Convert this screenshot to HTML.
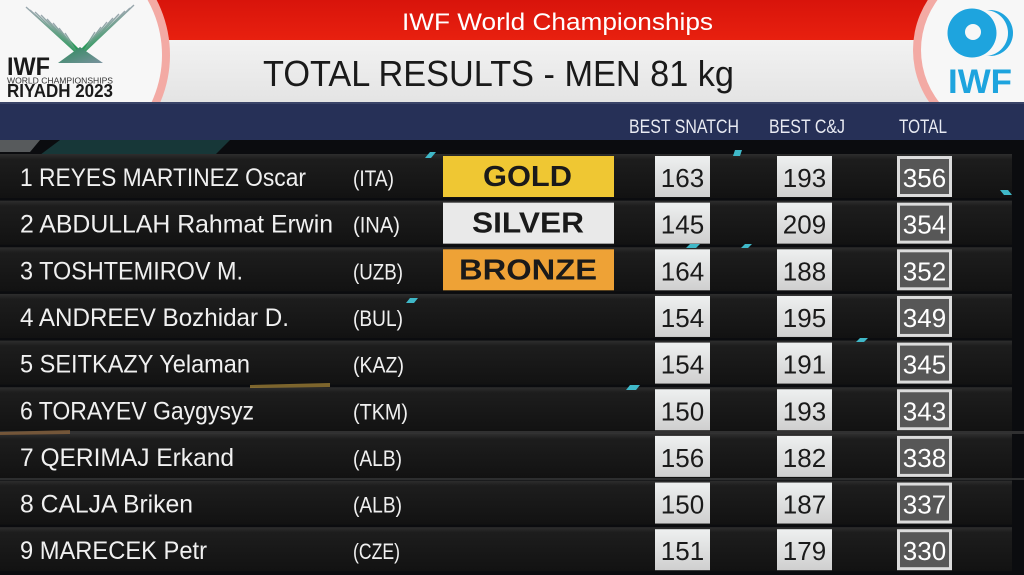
<!DOCTYPE html>
<html><head><meta charset="utf-8">
<style>
html,body{margin:0;padding:0;background:#0a0b0d;}
svg{display:block;}
text{font-family:"Liberation Sans",sans-serif;}
</style></head>
<body>
<svg width="1024" height="575" viewBox="0 0 1024 575" xmlns="http://www.w3.org/2000/svg">
<defs>
<linearGradient id="wb" x1="0" y1="0" x2="0" y2="1"><stop offset="0" stop-color="#fbfbfb"/><stop offset="1" stop-color="#e4e4e4"/></linearGradient>
<linearGradient id="rb" x1="0" y1="0" x2="0" y2="1"><stop offset="0" stop-color="#d8140b"/><stop offset="1" stop-color="#e8200f"/></linearGradient>
<linearGradient id="row" x1="0" y1="0" x2="0" y2="1"><stop offset="0" stop-color="#2e2e2e"/><stop offset="0.12" stop-color="#1d1d1d"/><stop offset="1" stop-color="#121212"/></linearGradient>
<linearGradient id="nb" x1="0" y1="0" x2="0" y2="1"><stop offset="0" stop-color="#eef0f0"/><stop offset="1" stop-color="#cfcfcf"/></linearGradient>
<linearGradient id="wing" x1="0" y1="0" x2="0" y2="1"><stop offset="0" stop-color="#9aa6ae"/><stop offset="1" stop-color="#2a9a5a"/></linearGradient>
<linearGradient id="pyr" x1="0" y1="0" x2="1" y2="1"><stop offset="0" stop-color="#2a8a5a"/><stop offset="1" stop-color="#7a929e"/></linearGradient>
<clipPath id="hdr"><rect x="0" y="0" width="1024" height="102"/></clipPath>
</defs>

<!-- dark background -->
<rect x="0" y="0" width="1024" height="575" fill="#0b0c0f"/>
<polygon points="60,140 230,140 215,155 40,155" fill="#1d4a4a" opacity="0.7"/>
<polygon points="0,140 40,140 30,152 0,152" fill="#8a9090" opacity="0.6"/>

<g clip-path="url(#hdr)">
  <!-- header white band -->
  <rect x="0" y="0" width="1024" height="102" fill="url(#wb)"/>
  <!-- red band -->
  <rect x="140" y="0" width="800" height="40" fill="url(#rb)"/>
  <!-- left logo circle -->
  <circle cx="50" cy="55" r="120" fill="#f3aaa4"/>
  <circle cx="50" cy="55" r="112" fill="#f7f7f7"/>
  <!-- right logo circle -->
  <circle cx="1005" cy="50" r="92" fill="#f3aaa4"/>
  <circle cx="1005" cy="50" r="84" fill="#f7f7f7"/>
</g>
<!-- navy band -->
<rect x="0" y="102" width="1024" height="38" fill="#263057"/>
<rect x="0" y="102" width="1024" height="2" fill="#3a4468"/>

<!-- left logo -->
<g>
  <g stroke="url(#wing)" stroke-width="1.4">
    <line x1="26" y1="7" x2="80" y2="56"/><line x1="30" y1="10" x2="80" y2="56"/>
    <line x1="35" y1="12" x2="80" y2="56"/><line x1="41" y1="15" x2="80" y2="56"/>
    <line x1="47" y1="19" x2="80" y2="56"/><line x1="53" y1="23" x2="80" y2="56"/>
    <line x1="59" y1="28" x2="80" y2="56"/><line x1="65" y1="33" x2="80" y2="56"/>
    <line x1="134" y1="5" x2="80" y2="56"/><line x1="130" y1="8" x2="80" y2="56"/>
    <line x1="125" y1="11" x2="80" y2="56"/><line x1="119" y1="14" x2="80" y2="56"/>
    <line x1="113" y1="18" x2="80" y2="56"/><line x1="107" y1="22" x2="80" y2="56"/>
    <line x1="101" y1="27" x2="80" y2="56"/><line x1="95" y1="32" x2="80" y2="56"/>
  </g>
  <polygon points="70,40 80,56 90,40 80,50" fill="#2a9a5a"/>
  <polygon points="58,63 80,47 103,63" fill="url(#pyr)"/>
  <text x="7" y="75" font-size="25" font-weight="bold" fill="#1a1a1a" textLength="43" lengthAdjust="spacingAndGlyphs">IWF</text>
  <text x="7" y="83.5" font-size="8" fill="#333" textLength="106" lengthAdjust="spacingAndGlyphs">WORLD CHAMPIONSHIPS</text>
  <text x="7" y="97" font-size="18" font-weight="bold" fill="#1a1a1a" textLength="106" lengthAdjust="spacingAndGlyphs">RIYADH 2023</text>
</g>

<!-- right logo -->
<g>
  <circle cx="990" cy="33" r="23" fill="#1ea4de"/>
  <circle cx="985" cy="33" r="23" fill="#f7f7f7"/>
  <circle cx="972" cy="33" r="26" fill="#f7f7f7"/>
  <circle cx="972" cy="33" r="24.5" fill="#1ea4de"/>
  <circle cx="973" cy="32" r="8" fill="#f7f7f7"/>
  <text x="948" y="93" font-size="34" font-weight="bold" fill="#1ea4de" textLength="64" lengthAdjust="spacingAndGlyphs">IWF</text>
</g>

<!-- titles -->
<text x="402" y="30" font-size="24" fill="#ffffff" textLength="311" lengthAdjust="spacingAndGlyphs">IWF World Championships</text>
<text x="263" y="86" font-size="36" fill="#1a1a1a" textLength="471" lengthAdjust="spacingAndGlyphs">TOTAL RESULTS - MEN 81 kg</text>

<!-- column headers -->
<g font-size="19" fill="#e8eaf2">
  <text x="629" y="133" textLength="110" lengthAdjust="spacingAndGlyphs">BEST SNATCH</text>
  <text x="769" y="133" textLength="76" lengthAdjust="spacingAndGlyphs">BEST C&amp;J</text>
  <text x="899" y="133" textLength="48" lengthAdjust="spacingAndGlyphs">TOTAL</text>
</g>

<!-- rows -->
<g id="rows">
  <rect x="0" y="154" width="1012" height="44" fill="url(#row)"/>
  <rect x="0" y="200.65" width="1012" height="44" fill="url(#row)"/>
  <rect x="0" y="247.3" width="1012" height="44" fill="url(#row)"/>
  <rect x="0" y="293.95" width="1012" height="44" fill="url(#row)"/>
  <rect x="0" y="340.6" width="1012" height="44" fill="url(#row)"/>
  <rect x="0" y="387.25" width="1012" height="44" fill="url(#row)"/>
  <rect x="0" y="433.9" width="1012" height="44" fill="url(#row)"/>
  <rect x="0" y="480.55" width="1012" height="44" fill="url(#row)"/>
  <rect x="0" y="527.2" width="1012" height="44" fill="url(#row)"/>

  <!-- faint streaks -->
  <rect x="0" y="431" width="1024" height="3" fill="#4a4a48" opacity="0.6"/>
  <rect x="0" y="478" width="1024" height="2" fill="#505050" opacity="0.5"/>
  <polygon points="250,385 330,383 330,387 250,388" fill="#c8a040" opacity="0.6"/>
  <polygon points="0,432 70,430 70,434 0,435" fill="#a07040" opacity="0.6"/>
  <g fill="#3fb8c8">
    <polygon points="430,152 436,152 431,158 425,158"/>
    <polygon points="1000,190 1008,190 1012,195 1004,195"/>
    <polygon points="690,244 700,244 696,248 686,248"/>
    <polygon points="745,244 752,244 748,248 741,248"/>
    <polygon points="410,298 418,298 414,303 406,303"/>
    <polygon points="630,385 640,385 636,390 626,390"/>
    <polygon points="860,338 868,338 864,342 856,342"/>
    <polygon points="735,150 742,150 740,156 733,156"/>
  </g>

  <!-- names -->
  <g font-size="25" fill="#f0f0f0">
    <text x="20" y="186" textLength="286" lengthAdjust="spacingAndGlyphs">1 REYES MARTINEZ Oscar</text>
    <text x="20" y="232.65" textLength="313" lengthAdjust="spacingAndGlyphs">2 ABDULLAH Rahmat Erwin</text>
    <text x="20" y="279.3" textLength="223" lengthAdjust="spacingAndGlyphs">3 TOSHTEMIROV M.</text>
    <text x="20" y="325.95" textLength="269" lengthAdjust="spacingAndGlyphs">4 ANDREEV Bozhidar D.</text>
    <text x="20" y="372.6" textLength="230" lengthAdjust="spacingAndGlyphs">5 SEITKAZY Yelaman</text>
    <text x="20" y="419.25" textLength="234" lengthAdjust="spacingAndGlyphs">6 TORAYEV Gaygysyz</text>
    <text x="20" y="465.9" textLength="214" lengthAdjust="spacingAndGlyphs">7 QERIMAJ Erkand</text>
    <text x="20" y="512.55" textLength="173" lengthAdjust="spacingAndGlyphs">8 CALJA Briken</text>
    <text x="20" y="559.2" textLength="187" lengthAdjust="spacingAndGlyphs">9 MARECEK Petr</text>
  </g>
  <g font-size="22" fill="#f0f0f0">
    <text x="353" y="186" textLength="41" lengthAdjust="spacingAndGlyphs">(ITA)</text>
    <text x="353" y="232.65" textLength="47" lengthAdjust="spacingAndGlyphs">(INA)</text>
    <text x="353" y="279.3" textLength="50" lengthAdjust="spacingAndGlyphs">(UZB)</text>
    <text x="353" y="325.95" textLength="50" lengthAdjust="spacingAndGlyphs">(BUL)</text>
    <text x="353" y="372.6" textLength="51" lengthAdjust="spacingAndGlyphs">(KAZ)</text>
    <text x="353" y="419.25" textLength="55" lengthAdjust="spacingAndGlyphs">(TKM)</text>
    <text x="353" y="465.9" textLength="49" lengthAdjust="spacingAndGlyphs">(ALB)</text>
    <text x="353" y="512.55" textLength="49" lengthAdjust="spacingAndGlyphs">(ALB)</text>
    <text x="353" y="559.2" textLength="47" lengthAdjust="spacingAndGlyphs">(CZE)</text>
  </g>

  <!-- medals -->
  <rect x="443" y="156" width="171" height="41" fill="#efc733"/>
  <rect x="443" y="202.65" width="171" height="41" fill="#e9e9e9"/>
  <rect x="443" y="249.3" width="171" height="41" fill="#eea236"/>
  <g font-size="29" font-weight="bold" fill="#1a1a1a">
    <text x="483" y="186" textLength="89" lengthAdjust="spacingAndGlyphs">GOLD</text>
    <text x="472" y="232.65" textLength="112" lengthAdjust="spacingAndGlyphs">SILVER</text>
    <text x="459" y="279.3" textLength="138" lengthAdjust="spacingAndGlyphs">BRONZE</text>
  </g>
</g>

<!-- number boxes -->
<g id="nums" font-size="26">
  <g>
    <rect x="655" y="156" width="55" height="41" fill="url(#nb)"/>
    <rect x="777" y="156" width="55" height="41" fill="url(#nb)"/>
    <rect x="897" y="156" width="55" height="41" fill="#dcdcdc"/>
    <rect x="900" y="159" width="49" height="35" fill="#575757"/>
    <text x="682.5" y="187" text-anchor="middle" fill="#1a1a1a">163</text>
    <text x="804.5" y="187" text-anchor="middle" fill="#1a1a1a">193</text>
    <text x="924.5" y="187" text-anchor="middle" fill="#ffffff">356</text>
  </g>
  <g transform="translate(0,46.65)">
    <rect x="655" y="156" width="55" height="41" fill="url(#nb)"/>
    <rect x="777" y="156" width="55" height="41" fill="url(#nb)"/>
    <rect x="897" y="156" width="55" height="41" fill="#dcdcdc"/>
    <rect x="900" y="159" width="49" height="35" fill="#575757"/>
    <text x="682.5" y="187" text-anchor="middle" fill="#1a1a1a">145</text>
    <text x="804.5" y="187" text-anchor="middle" fill="#1a1a1a">209</text>
    <text x="924.5" y="187" text-anchor="middle" fill="#ffffff">354</text>
  </g>
  <g transform="translate(0,93.3)">
    <rect x="655" y="156" width="55" height="41" fill="url(#nb)"/>
    <rect x="777" y="156" width="55" height="41" fill="url(#nb)"/>
    <rect x="897" y="156" width="55" height="41" fill="#dcdcdc"/>
    <rect x="900" y="159" width="49" height="35" fill="#575757"/>
    <text x="682.5" y="187" text-anchor="middle" fill="#1a1a1a">164</text>
    <text x="804.5" y="187" text-anchor="middle" fill="#1a1a1a">188</text>
    <text x="924.5" y="187" text-anchor="middle" fill="#ffffff">352</text>
  </g>
  <g transform="translate(0,139.95)">
    <rect x="655" y="156" width="55" height="41" fill="url(#nb)"/>
    <rect x="777" y="156" width="55" height="41" fill="url(#nb)"/>
    <rect x="897" y="156" width="55" height="41" fill="#dcdcdc"/>
    <rect x="900" y="159" width="49" height="35" fill="#575757"/>
    <text x="682.5" y="187" text-anchor="middle" fill="#1a1a1a">154</text>
    <text x="804.5" y="187" text-anchor="middle" fill="#1a1a1a">195</text>
    <text x="924.5" y="187" text-anchor="middle" fill="#ffffff">349</text>
  </g>
  <g transform="translate(0,186.6)">
    <rect x="655" y="156" width="55" height="41" fill="url(#nb)"/>
    <rect x="777" y="156" width="55" height="41" fill="url(#nb)"/>
    <rect x="897" y="156" width="55" height="41" fill="#dcdcdc"/>
    <rect x="900" y="159" width="49" height="35" fill="#575757"/>
    <text x="682.5" y="187" text-anchor="middle" fill="#1a1a1a">154</text>
    <text x="804.5" y="187" text-anchor="middle" fill="#1a1a1a">191</text>
    <text x="924.5" y="187" text-anchor="middle" fill="#ffffff">345</text>
  </g>
  <g transform="translate(0,233.25)">
    <rect x="655" y="156" width="55" height="41" fill="url(#nb)"/>
    <rect x="777" y="156" width="55" height="41" fill="url(#nb)"/>
    <rect x="897" y="156" width="55" height="41" fill="#dcdcdc"/>
    <rect x="900" y="159" width="49" height="35" fill="#575757"/>
    <text x="682.5" y="187" text-anchor="middle" fill="#1a1a1a">150</text>
    <text x="804.5" y="187" text-anchor="middle" fill="#1a1a1a">193</text>
    <text x="924.5" y="187" text-anchor="middle" fill="#ffffff">343</text>
  </g>
  <g transform="translate(0,279.9)">
    <rect x="655" y="156" width="55" height="41" fill="url(#nb)"/>
    <rect x="777" y="156" width="55" height="41" fill="url(#nb)"/>
    <rect x="897" y="156" width="55" height="41" fill="#dcdcdc"/>
    <rect x="900" y="159" width="49" height="35" fill="#575757"/>
    <text x="682.5" y="187" text-anchor="middle" fill="#1a1a1a">156</text>
    <text x="804.5" y="187" text-anchor="middle" fill="#1a1a1a">182</text>
    <text x="924.5" y="187" text-anchor="middle" fill="#ffffff">338</text>
  </g>
  <g transform="translate(0,326.55)">
    <rect x="655" y="156" width="55" height="41" fill="url(#nb)"/>
    <rect x="777" y="156" width="55" height="41" fill="url(#nb)"/>
    <rect x="897" y="156" width="55" height="41" fill="#dcdcdc"/>
    <rect x="900" y="159" width="49" height="35" fill="#575757"/>
    <text x="682.5" y="187" text-anchor="middle" fill="#1a1a1a">150</text>
    <text x="804.5" y="187" text-anchor="middle" fill="#1a1a1a">187</text>
    <text x="924.5" y="187" text-anchor="middle" fill="#ffffff">337</text>
  </g>
  <g transform="translate(0,373.2)">
    <rect x="655" y="156" width="55" height="41" fill="url(#nb)"/>
    <rect x="777" y="156" width="55" height="41" fill="url(#nb)"/>
    <rect x="897" y="156" width="55" height="41" fill="#dcdcdc"/>
    <rect x="900" y="159" width="49" height="35" fill="#575757"/>
    <text x="682.5" y="187" text-anchor="middle" fill="#1a1a1a">151</text>
    <text x="804.5" y="187" text-anchor="middle" fill="#1a1a1a">179</text>
    <text x="924.5" y="187" text-anchor="middle" fill="#ffffff">330</text>
  </g>
</g>
</svg>
</body></html>
